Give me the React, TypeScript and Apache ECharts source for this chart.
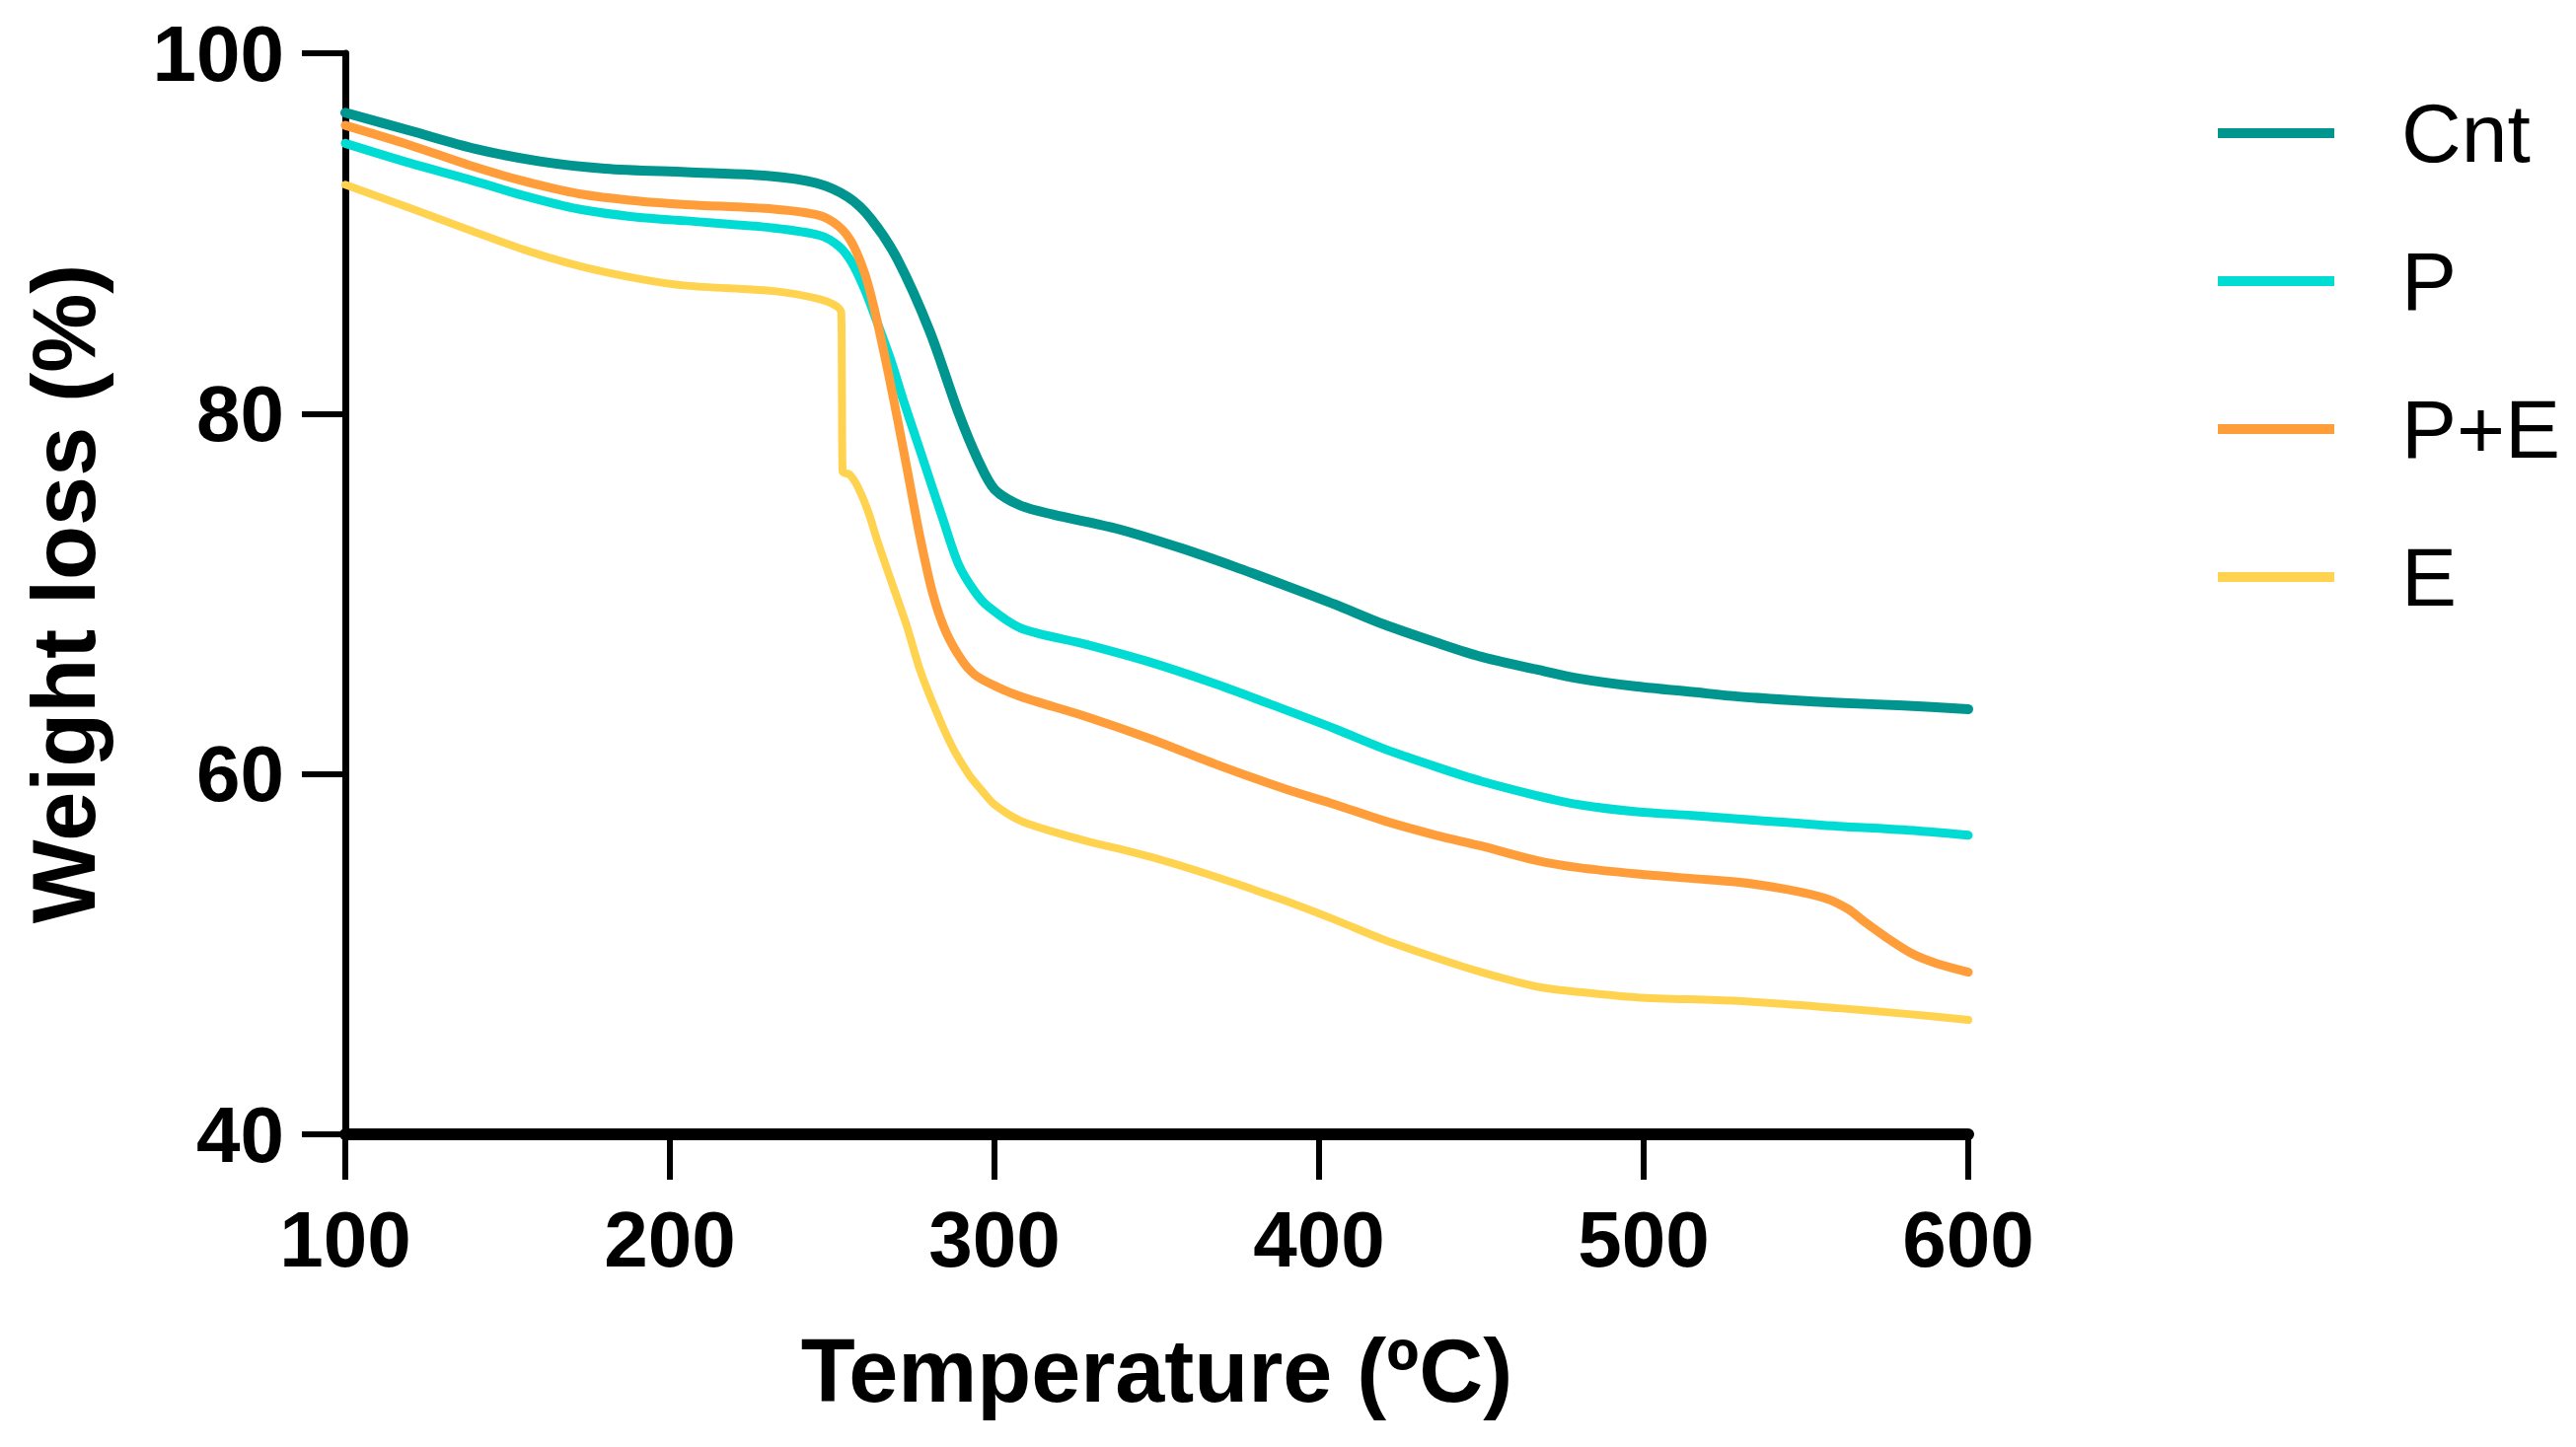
import React, { useEffect, useRef } from "react";
import * as echarts from "echarts";

const seriesNames = ["Cnt", "P", "P+E", "E"];
const seriesColors = ["#00968f", "#00dcd3", "#ff9d3a", "#ffd34f"];

const cntData: [number, number][] = [
  [100, 96.7], [120, 95.7], [140, 94.7], [160, 94.0], [180, 93.6], [205, 93.4],
  [230, 93.2], [245, 92.8], [255, 92.0], [262, 90.8], [270, 88.6], [280, 84.6],
  [289, 80.0], [295, 77.4], [300, 75.8], [308, 74.9], [318, 74.4], [338, 73.6],
  [358, 72.5], [374, 71.5], [389, 70.5], [405, 69.4], [420, 68.3], [436, 67.3],
  [450, 66.5], [467, 65.8], [480, 65.3], [498, 64.85], [515, 64.55], [529, 64.3],
  [545, 64.1], [560, 63.95], [580, 63.8], [600, 63.6],
];

const pData: [number, number][] = [
  [100, 95.0], [120, 93.9], [138, 93.0], [155, 92.1], [172, 91.35], [190, 90.9],
  [205, 90.7], [232, 90.3], [246, 89.9], [252, 89.3], [256, 88.4], [260, 86.9],
  [264, 85.0], [268, 83.0], [272, 80.7], [277, 78.0], [284, 74.2], [289, 71.6],
  [294, 70.1], [298, 69.3], [308, 68.1], [328, 67.2], [348, 66.2], [368, 65.0],
  [389, 63.6], [405, 62.5], [420, 61.4], [436, 60.4], [450, 59.6], [467, 58.8],
  [480, 58.3], [498, 57.9], [515, 57.7], [529, 57.5], [545, 57.3], [560, 57.1],
  [580, 56.9], [600, 56.6],
];

const peData: [number, number][] = [
  [100, 96.0], [120, 94.9], [138, 93.8], [155, 92.9], [172, 92.2], [190, 91.8],
  [205, 91.6], [232, 91.35], [246, 91.0], [252, 90.4], [256, 89.5], [260, 87.8],
  [263, 85.8], [267, 82.5], [270, 79.8], [273, 77.0], [277, 73.2], [281, 70.0],
  [285, 67.9], [290, 66.3], [294, 65.5], [300, 64.9], [308, 64.3], [328, 63.2],
  [348, 61.95], [368, 60.55], [389, 59.2], [405, 58.3], [420, 57.4], [436, 56.6],
  [450, 56.0], [467, 55.2], [480, 54.8], [498, 54.45], [515, 54.2], [529, 54.0],
  [544, 53.6], [556, 53.1], [563, 52.5], [568, 51.8], [575, 50.9], [583, 50.0],
  [590, 49.5], [600, 49.0],
];

const eData: [number, number][] = [
  [100, 92.7], [120, 91.4], [138, 90.2], [155, 89.1], [172, 88.2], [190, 87.5],
  [205, 87.1], [232, 86.8], [245, 86.4], [251, 86.0], [252.8, 85.6], [253, 81.0],
  [253.2, 76.8], [255.5, 76.6], [258, 75.9], [261, 74.6], [264, 72.9], [268, 70.8], [273, 68.2],
  [277, 65.8], [282, 63.5], [287, 61.5], [292, 60.0], [296, 59.1], [300, 58.3],
  [308, 57.4], [318, 56.8], [328, 56.3], [348, 55.4], [368, 54.3], [389, 53.0],
  [405, 51.9], [420, 50.8], [436, 49.8], [450, 49.0], [467, 48.2], [480, 47.9],
  [498, 47.6], [529, 47.4], [560, 47.0], [580, 46.7], [600, 46.35],
];

const allData = [cntData, pData, peData, eData];
const lineWidths = [10, 9, 9, 8];

const FONT = "'Liberation Sans', Arial, Helvetica, sans-serif";

export default function App() {
  const ref = useRef<HTMLDivElement>(null);

  useEffect(() => {
    if (!ref.current) return;
    const chart = echarts.init(ref.current, undefined, { renderer: "svg" });
    chart.setOption({
      animation: false,
      backgroundColor: "#ffffff",
      textStyle: { fontFamily: FONT },
      grid: { left: 350, top: 54, width: 1645, height: 1096, containLabel: false },
      legend: {
        orient: "vertical",
        left: 2243,
        top: 88,
        icon: "rect",
        itemWidth: 118,
        itemHeight: 10,
        itemGap: 66,
        data: seriesNames,
        textStyle: {
          fontFamily: FONT,
          fontSize: 84,
          lineHeight: 84,
          color: "#000",
          padding: [0, 0, 0, 63],
        },
      },
      xAxis: {
        type: "value",
        min: 100,
        max: 600,
        interval: 100,
        name: "Temperature (ºC)",
        nameLocation: "middle",
        nameGap: 195,
        nameTextStyle: { fontFamily: FONT, fontSize: 90, fontWeight: "bold", color: "#000" },
        axisLine: { show: true, lineStyle: { color: "#000", width: 12 } },
        axisTick: { show: true, length: 46, lineStyle: { color: "#000", width: 6 } },
        axisLabel: { fontFamily: FONT, fontSize: 80, fontWeight: "bold", color: "#000", margin: 66 },
        splitLine: { show: false },
      },
      yAxis: {
        type: "value",
        min: 40,
        max: 100,
        interval: 20,
        name: "Weight loss (%)",
        nameLocation: "middle",
        nameRotate: 90,
        nameGap: 240,
        nameTextStyle: { fontFamily: FONT, fontSize: 90, fontWeight: "bold", color: "#000" },
        axisLine: { show: true, lineStyle: { color: "#000", width: 7 } },
        axisTick: { show: true, length: 44, lineStyle: { color: "#000", width: 6 } },
        axisLabel: { fontFamily: FONT, fontSize: 80, fontWeight: "bold", color: "#000", margin: 62 },
        splitLine: { show: false },
      },
      series: seriesNames.map((name, i) => ({
        name,
        type: "line",
        data: allData[i],
        showSymbol: false,
        symbol: "none",
        smooth: 0.3,
        color: seriesColors[i],
        lineStyle: { color: seriesColors[i], width: lineWidths[i], cap: "round", join: "round" },
        z: 2,
      })),
    });
    return () => chart.dispose();
  }, []);

  return (
    <div
      ref={ref}
      style={{ position: "absolute", left: 0, top: 0, width: 2611, height: 1467, background: "#fff" }}
    />
  );
}
